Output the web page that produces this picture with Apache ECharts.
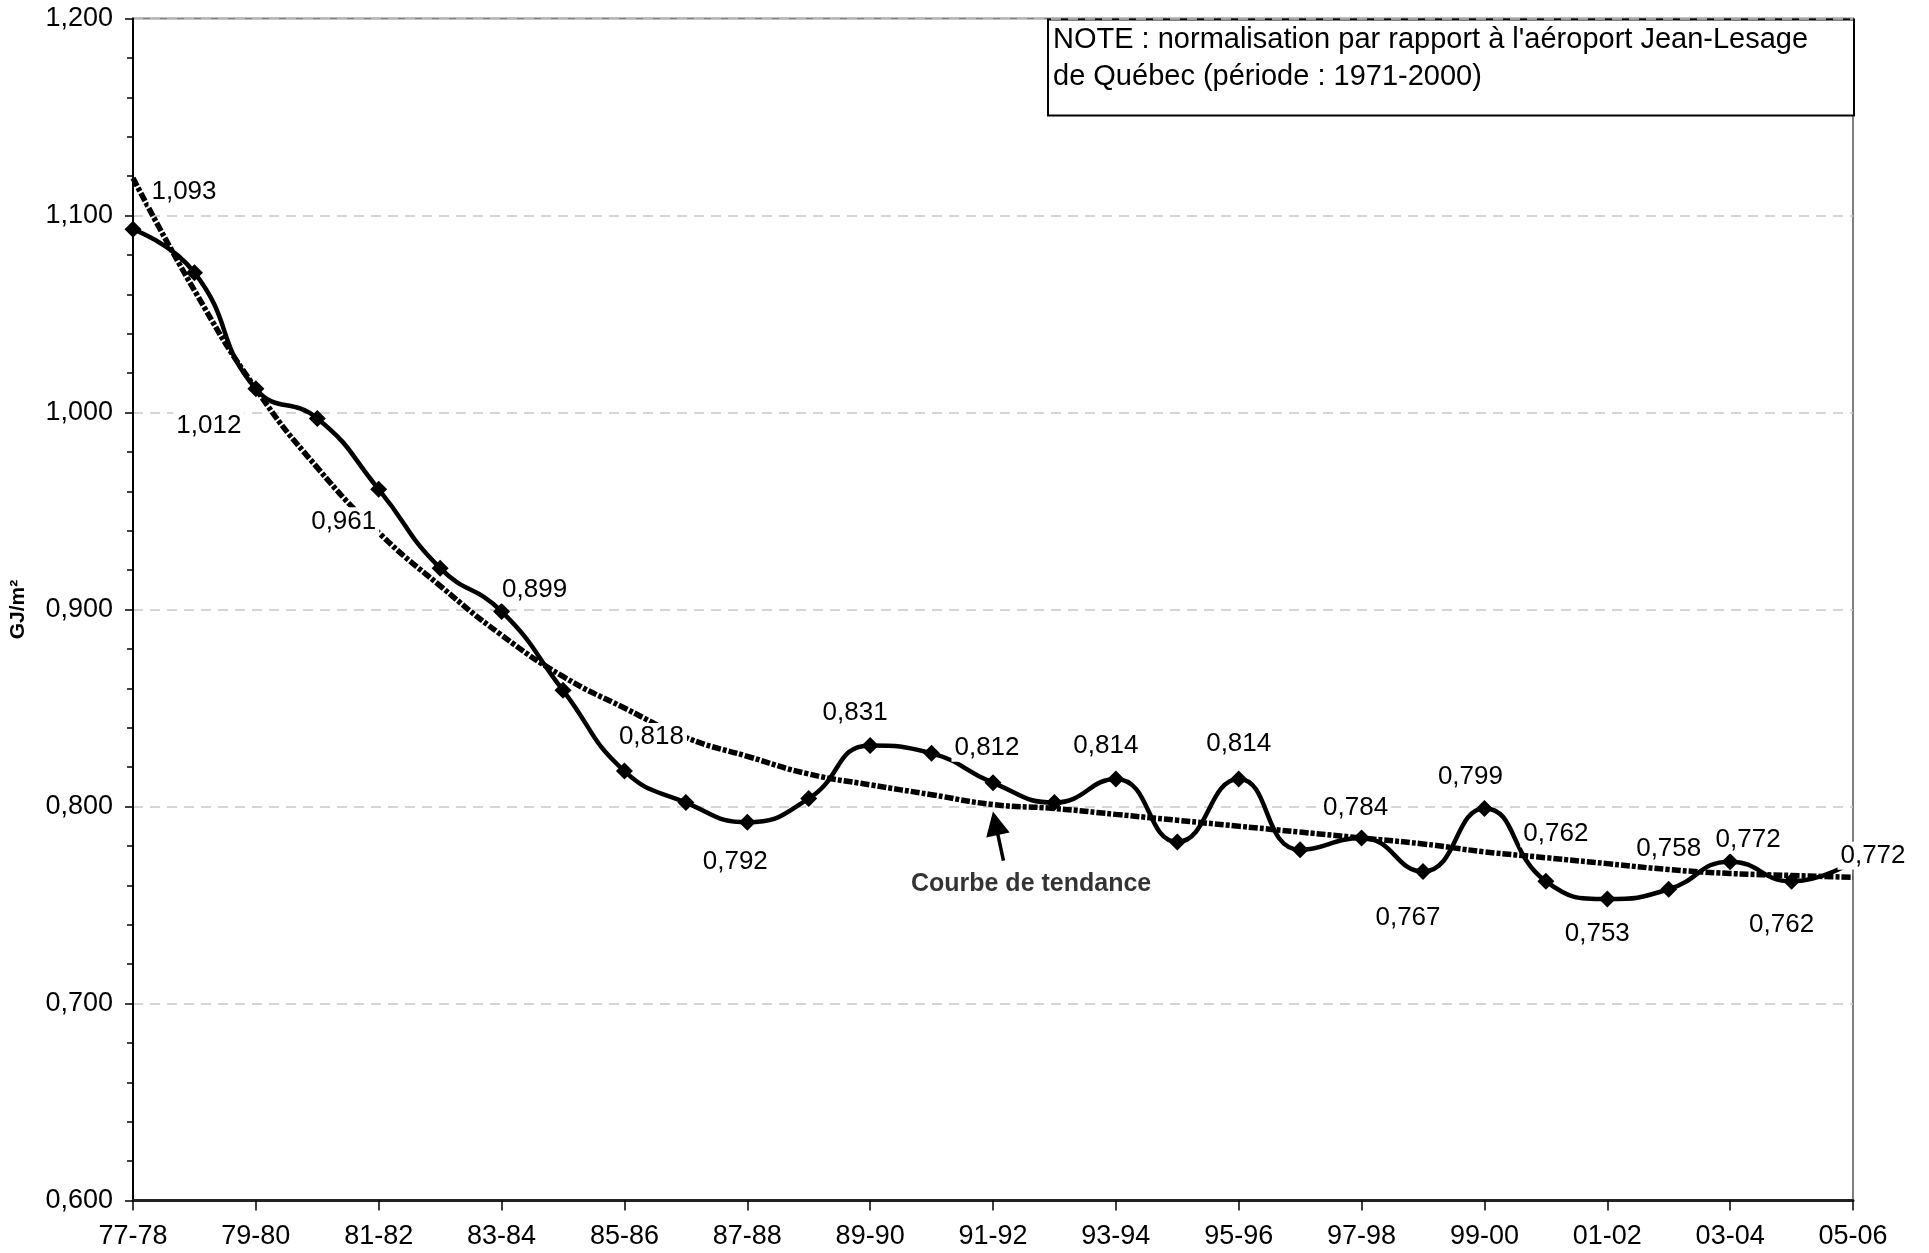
<!DOCTYPE html>
<html><head><meta charset="utf-8">
<script src="https://cdn.jsdelivr.net/npm/echarts@6/dist/echarts.min.js"></script>
<style>html,body{margin:0;padding:0;background:#fff}#c{width:1929px;height:1253px}</style>
</head><body><div id="c"></div>
<script>
// ---- data ----
const categories = ['77-78','78-79','79-80','80-81','81-82','82-83','83-84','84-85','85-86','86-87','87-88','88-89','89-90','90-91','91-92','92-93','93-94','94-95','95-96','96-97','97-98','98-99','99-00','00-01','01-02','02-03','03-04','04-05','05-06'];
const intensity = [1.093,1.071,1.012,0.997,0.961,0.921,0.899,0.859,0.818,0.802,0.792,0.804,0.831,0.827,0.812,0.802,0.814,0.782,0.814,0.778,0.784,0.767,0.799,0.762,0.753,0.758,0.772,0.762,0.772];
const trend = [1.119,1.062,1.012,0.972,0.939,0.912,0.887,0.866,0.850,0.835,0.8255,0.8165,0.811,0.806,0.801,0.799,0.796,0.793,0.790,0.787,0.784,0.781,0.777,0.774,0.771,0.768,0.766,0.765,0.764];
const yMin = 0.6, yMax = 1.2, yStep = 0.1;
const yAxisTitle = 'GJ/m²';
const noteText = "NOTE : normalisation par rapport à l'aéroport Jean-Lesage\nde Québec (période : 1971-2000)";
const trendText = 'Courbe de tendance';
// annotation anchors in data space [category index, value]
const trendArrow = [[14.17, 0.7725], [14.04, 0.7915]];
const trendTextAnchor = [14.62, 0.7606];

// ---- label placement (pixel offsets from each point) ----
const labelOffsets = {
  0:[51,-37], 2:[-47,37], 4:[-35,32], 6:[33,-22], 8:[27,-34], 10:[-12,40],
  12:[-15,-33], 14:[-6,-35], 16:[-10,-33], 18:[0,-35], 20:[-6,-30], 21:[-15,46],
  22:[-14,-32], 23:[10,-48], 24:[-10,35], 25:[0,-40], 26:[18,-22], 27:[-10,43], 28:[20,-6]
};

const fmt = v => Number(v).toFixed(3).replace('.', ',');
const FONT = '"Liberation Sans", Arial, sans-serif';

const chart = echarts.init(document.getElementById('c'), null, {renderer:'canvas'});
chart.setOption({
  animation: false,
  backgroundColor: '#fff',
  grid: { left: 124, right: 76, top: 18.5, bottom: 52.5, show: true, borderColor: '#808080', borderWidth: 2, backgroundColor: 'transparent' },
  xAxis: [{
    type: 'category', data: categories, boundaryGap: false,
    axisLine: { show: true, lineStyle: { color: '#222', width: 3 } },
    axisTick: { show: true, interval: 1, length: 10, lineStyle: { color: '#000', width: 1.5 } },
    axisLabel: { interval: 1, margin: 23, color: '#000', fontSize: 27, fontFamily: FONT },
    splitLine: { show: false }
  }, {
    type: 'value', min: 0, max: categories.length - 1, show: false
  }],
  yAxis: {
    type: 'value', min: yMin, max: yMax, interval: yStep,
    name: yAxisTitle, nameLocation: 'middle', nameGap: 104, nameRotate: 90,
    nameTextStyle: { fontSize: 21, fontWeight: 'bold', color: '#000', fontFamily: FONT },
    axisLine: { show: true, lineStyle: { color: '#000', width: 2 } },
    axisTick: { show: true, length: 8, lineStyle: { color: '#000', width: 1.5 } },
    minorTick: { show: true, splitNumber: 5, length: 6, lineStyle: { color: '#000', width: 1.5 } },
    axisLabel: { margin: 20, color: '#000', fontSize: 27, fontFamily: FONT, formatter: fmt },
    splitLine: { show: true, lineStyle: { color: '#c8c8c8', width: 1.5, type: [10, 7] } }
  },
  series: [{
    name: 'tendance', type: 'line', data: trend, smooth: true, symbol: 'none', z: 2,
    lineStyle: { color: '#000', width: 5.5, type: [9, 2, 4, 2] }
  }, {
    name: 'intensite', type: 'line', smooth: 0.5, z: 3,
    symbol: 'diamond', symbolSize: 17,
    itemStyle: { color: '#000' },
    lineStyle: { color: '#000', width: 4.5 },
    label: { show: false, position: 'inside', color: '#000', fontSize: 26, fontFamily: FONT,
             backgroundColor: '#fff', padding: [1, 3], formatter: p => fmt(p.value) },
    data: intensity.map((v, i) => labelOffsets[i]
      ? { value: v, label: { show: true, offset: labelOffsets[i] } }
      : v)
  }, {
    name: 'fleche', type: 'lines', coordinateSystem: 'cartesian2d', xAxisIndex: 1, yAxisIndex: 0, z: 4,
    symbol: ['none', 'triangle'], symbolSize: [0, 24],
    lineStyle: { color: '#000', width: 3.5, opacity: 1, curveness: 0 },
    data: [{ coords: trendArrow }]
  }, {
    name: 'texte', type: 'scatter', xAxisIndex: 1, yAxisIndex: 0, z: 4,
    symbolSize: 1, itemStyle: { color: 'rgba(0,0,0,0)' },
    label: { show: true, position: 'inside', formatter: trendText, color: '#000',
             fontSize: 25, fontWeight: 'bold', fontFamily: FONT },
    data: [trendTextAnchor]
  }],
  graphic: [{
    type: 'group', left: 1047, top: 18.5, z: 10,
    children: [
      { type: 'rect', shape: { x: 0, y: 0, width: 806, height: 96 },
        style: { fill: '#fff', stroke: '#000', lineWidth: 2 } },
      { type: 'text', x: 5, y: 2,
        style: { text: noteText, font: '29px ' + FONT, fill: '#000', lineHeight: 37 } }
    ]
  }]
});
</script></body></html>
